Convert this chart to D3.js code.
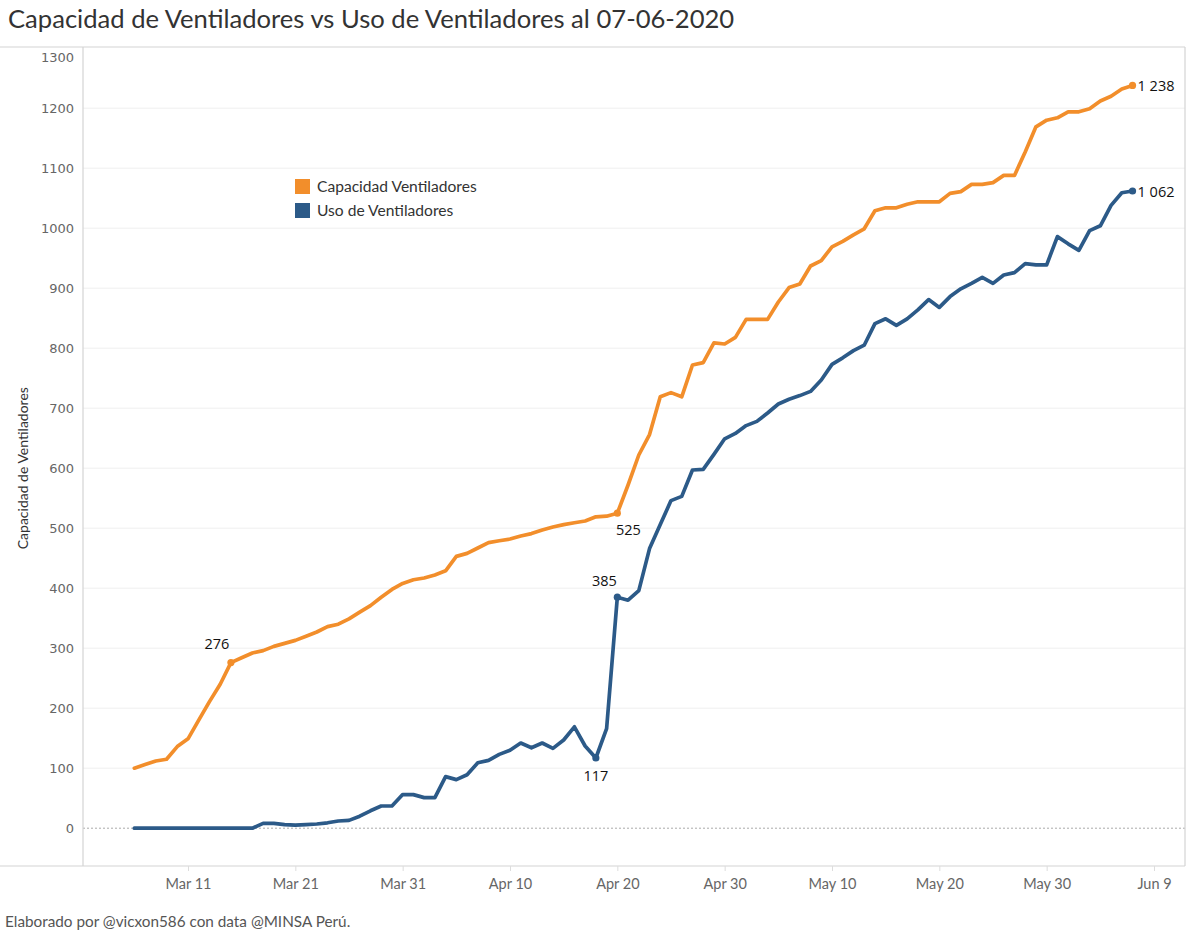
<!DOCTYPE html>
<html>
<head>
<meta charset="utf-8">
<script src="https://cdn.jsdelivr.net/npm/d3@7"></script>
<style>
  body { margin: 0; background: #fff; }
  svg { display: block; }
</style>
</head>
<body>
<svg width="1200" height="938"></svg>
<script>
// Daily series, 6 Mar 2020 to 7 Jun 2020
const firstDay = Date.UTC(2020, 2, 6);
const lastDay = Date.UTC(2020, 5, 7);

const capacidad = [
  100, 106, 112, 115, 136, 149, 180, 211, 240, 276,
  284, 292, 296, 303, 308, 313, 320, 327, 336, 340,
  349, 360, 371, 385, 398, 408, 414, 417, 422, 429,
  453, 458, 467, 476, 479, 482, 487, 491, 497, 502,
  506, 509, 512, 519, 520, 525, 572, 622, 656, 719,
  726, 719, 772, 776, 809, 807, 818, 848, 848, 848,
  877, 901, 907, 937, 946, 969, 978, 989, 999, 1029,
  1034, 1034, 1040, 1044, 1044, 1044, 1058, 1061, 1073, 1073,
  1076, 1088, 1088, 1127, 1169, 1180, 1184, 1194, 1194, 1199,
  1212, 1220, 1232, 1238
];

const uso = [
  0, 0, 0, 0, 0, 0, 0, 0, 0, 0,
  0, 0, 8, 8, 6, 5, 6, 7, 9, 12,
  13, 20, 29, 37, 37, 56, 56, 51, 51, 86,
  81, 89, 109, 113, 123, 130, 142, 134, 142, 133,
  147, 169, 137, 117, 166, 385, 380, 396, 466, 506,
  546, 553, 597, 598, 623, 649, 658, 671, 678, 692,
  707, 715, 721, 728, 747, 773, 784, 796, 805, 841,
  849, 838, 849, 864, 881, 868, 886, 899, 908, 918,
  908, 922, 926, 941, 939, 939, 986, 974, 963, 996,
  1004, 1038, 1059, 1062
];

const seriesNames = ["Capacidad Ventiladores", "Uso de Ventiladores"];
const seriesColors = ["#f28e2b", "#2c5a88"];

const xTickDates = [
  [2020, 2, 11], [2020, 2, 21], [2020, 2, 31], [2020, 3, 10], [2020, 3, 20],
  [2020, 3, 30], [2020, 4, 10], [2020, 4, 20], [2020, 4, 30], [2020, 5, 9]
];
const yTicks = d3.range(0, 1301, 100);

// labelled points: series index, date, placement
const marks = [
  { s: 0, date: [2020, 2, 15], pos: "above" },
  { s: 0, date: [2020, 3, 20], pos: "below-right" },
  { s: 1, date: [2020, 3, 18], pos: "below" },
  { s: 1, date: [2020, 3, 20], pos: "above-left" },
  { s: 0, date: [2020, 5, 7], pos: "right" },
  { s: 1, date: [2020, 5, 7], pos: "right" }
];

const days = d3.utcDay.range(firstDay, lastDay + 1);
const allSeries = [capacidad, uso];

const svg = d3.select("svg");
const plot = { left: 83, right: 1185, top: 47, bottom: 866 };

const x = d3.scaleUtc()
  .domain([new Date(Date.UTC(2020, 2, 11)), new Date(Date.UTC(2020, 5, 9))])
  .range([188, 1154]);

const y = d3.scaleLinear()
  .domain([-63, 1302])
  .range([plot.bottom, plot.top]);

// title
svg.append("text")
  .attr("x", 8).attr("y", 28)
  .attr("font-family", "Lato, sans-serif")
  .attr("font-size", 25.6)
  .attr("fill", "#333")
  .text("Capacidad de Ventiladores vs Uso de Ventiladores al 07-06-2020");

// gridlines
svg.append("g")
  .selectAll("line")
  .data(yTicks.filter(d => d > 0 && d < 1300))
  .join("line")
  .attr("x1", plot.left).attr("x2", plot.right)
  .attr("y1", d => y(d)).attr("y2", d => y(d))
  .attr("stroke", "#efefef").attr("stroke-width", 1);

// zero line
svg.append("line")
  .attr("x1", plot.left).attr("x2", plot.right)
  .attr("y1", y(0)).attr("y2", y(0))
  .attr("stroke", "#aaa").attr("stroke-width", 1)
  .attr("stroke-dasharray", "2,2");

// frame
const frame = svg.append("g").attr("stroke", "#d4d4d4").attr("stroke-width", 1.2);
frame.append("line").attr("x1", 0).attr("x2", plot.right).attr("y1", plot.top).attr("y2", plot.top);
frame.append("line").attr("x1", 0).attr("x2", plot.right).attr("y1", plot.bottom).attr("y2", plot.bottom);
frame.append("line").attr("x1", plot.left).attr("x2", plot.left).attr("y1", plot.top).attr("y2", plot.bottom);
frame.append("line").attr("x1", plot.right).attr("x2", plot.right).attr("y1", plot.top).attr("y2", plot.bottom);

// y axis
const yAxis = svg.append("g")
  .attr("transform", `translate(${plot.left},0)`)
  .call(d3.axisLeft(y).tickValues(yTicks).tickFormat(d3.format("d")).tickSize(0).tickPadding(9));
yAxis.select(".domain").remove();
yAxis.selectAll("text")
  .attr("font-family", "DejaVu Sans, sans-serif")
  .attr("font-size", 13)
  .attr("fill", "#666")
  .attr("y", d => Math.max(y(d), 57) - y(d));

svg.append("text")
  .attr("transform", `translate(28,${y(600)}) rotate(-90)`)
  .attr("text-anchor", "middle")
  .attr("font-family", "Lato, sans-serif")
  .attr("font-size", 14)
  .attr("fill", "#333")
  .text("Capacidad de Ventiladores");

// x axis
const xAxis = svg.append("g")
  .attr("transform", `translate(0,${plot.bottom})`)
  .call(d3.axisBottom(x)
    .tickValues(xTickDates.map(d => new Date(Date.UTC(d[0], d[1], d[2]))))
    .tickSize(5).tickPadding(8)
    .tickFormat(d3.utcFormat("%b %-d")));
xAxis.select(".domain").remove();
xAxis.selectAll(".tick line").attr("stroke", "#ddd");
xAxis.selectAll("text")
  .attr("font-family", "Lato, sans-serif")
  .attr("font-size", 14.5)
  .attr("fill", "#666");

// lines
const line = d3.line()
  .x((d, i) => x(days[i]))
  .y(d => y(d));

svg.append("g")
  .selectAll("path")
  .data(allSeries)
  .join("path")
  .attr("d", d => line(d))
  .attr("fill", "none")
  .attr("stroke", (d, i) => seriesColors[i])
  .attr("stroke-width", 3.7)
  .attr("stroke-linejoin", "round")
  .attr("stroke-linecap", "round");

// labelled points
const locale = d3.formatLocale({ decimal: ",", thousands: "\u00a0", grouping: [3], currency: ["", ""] });
const fmt = locale.format(",d");
const offsets = {
  "above": [-14, -14, "middle"],
  "below": [0, 23, "middle"],
  "below-right": [11, 22, "middle"],
  "above-left": [-13, -11, "middle"],
  "right": [5, 6, "start"]
};

const markG = svg.append("g");
marks.forEach(m => {
  const dt = new Date(Date.UTC(m.date[0], m.date[1], m.date[2]));
  const i = d3.utcDay.count(new Date(firstDay), dt);
  const v = allSeries[m.s][i];
  const px = x(days[i]), py = y(v);
  const off = offsets[m.pos];
  markG.append("circle")
    .attr("cx", px).attr("cy", py).attr("r", 3.6)
    .attr("fill", seriesColors[m.s]);
  markG.append("text")
    .attr("x", px + off[0]).attr("y", py + off[1])
    .attr("text-anchor", off[2])
    .attr("font-family", "Open Sans, sans-serif")
    .attr("font-size", 14.5)
    .attr("fill", "#111")
    .text(fmt(v));
});

// legend
const legend = svg.append("g").attr("transform", "translate(295,179)");
seriesNames.forEach((name, i) => {
  const g = legend.append("g").attr("transform", `translate(0,${i * 24})`);
  g.append("rect").attr("width", 15).attr("height", 15).attr("fill", seriesColors[i]);
  g.append("text")
    .attr("x", 22).attr("y", 13)
    .attr("font-family", "Lato, sans-serif")
    .attr("font-size", 15.6)
    .attr("fill", "#333")
    .text(name);
});

// footer
svg.append("text")
  .attr("x", 5).attr("y", 927)
  .attr("font-family", "Lato, sans-serif")
  .attr("font-size", 15.3)
  .attr("fill", "#555")
  .text("Elaborado por @vicxon586 con data @MINSA Perú.");
</script>
</body>
</html>
